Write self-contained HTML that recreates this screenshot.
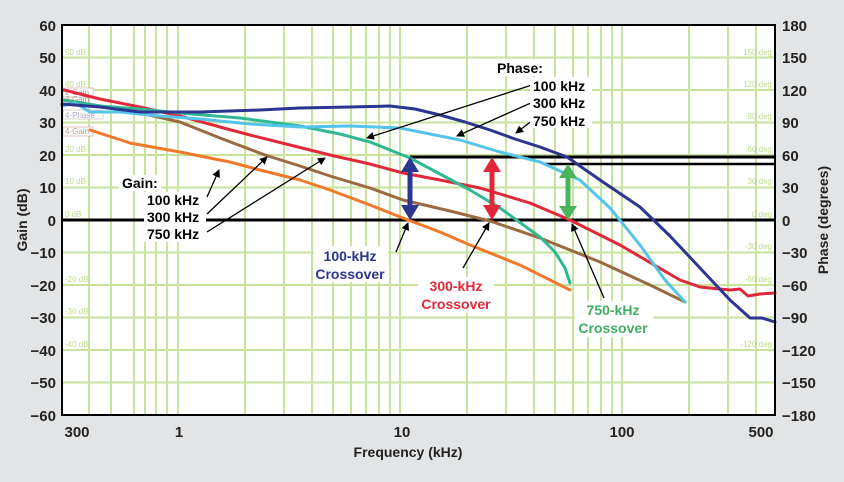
<!DOCTYPE html>
<html><head><meta charset="utf-8"><style>
body{margin:0;background:#e3e4e5;}
svg{display:block;font-family:"Liberation Sans",sans-serif;}
</style></head><body>
<svg width="844" height="482" viewBox="0 0 844 482" xmlns="http://www.w3.org/2000/svg">
<rect width="844" height="482" fill="#e3e4e5"/>
<rect x="62" y="25" width="713" height="390" fill="#fff"/>
<g stroke="#c8e39c" stroke-width="2">
<line x1="62" x2="775" y1="57.5" y2="57.5"/><line x1="62" x2="775" y1="90" y2="90"/>
<line x1="62" x2="775" y1="122.5" y2="122.5"/><line x1="62" x2="775" y1="155" y2="155"/>
<line x1="62" x2="775" y1="187.5" y2="187.5"/>
<line x1="62" x2="775" y1="252.5" y2="252.5"/><line x1="62" x2="775" y1="285" y2="285"/>
<line x1="62" x2="775" y1="317.5" y2="317.5"/><line x1="62" x2="775" y1="350" y2="350"/>
<line x1="62" x2="775" y1="382.5" y2="382.5"/>
<line x1="89" x2="89" y1="25" y2="415"/><line x1="111" x2="111" y1="25" y2="415"/>
<line x1="134" x2="134" y1="25" y2="415"/><line x1="145" x2="145" y1="25" y2="415"/>
<line x1="156" x2="156" y1="25" y2="415"/><line x1="167" x2="167" y1="25" y2="415"/>
<line x1="178" x2="178" y1="25" y2="415"/>
<line x1="245" x2="245" y1="25" y2="415"/><line x1="284" x2="284" y1="25" y2="415"/>
<line x1="312" x2="312" y1="25" y2="415"/><line x1="333" x2="333" y1="25" y2="415"/>
<line x1="351" x2="351" y1="25" y2="415"/><line x1="366" x2="366" y1="25" y2="415"/>
<line x1="379" x2="379" y1="25" y2="415"/><line x1="390" x2="390" y1="25" y2="415"/>
<line x1="400" x2="400" y1="25" y2="415"/>
<line x1="467" x2="467" y1="25" y2="415"/><line x1="506" x2="506" y1="25" y2="415"/>
<line x1="534" x2="534" y1="25" y2="415"/><line x1="555" x2="555" y1="25" y2="415"/>
<line x1="573" x2="573" y1="25" y2="415"/><line x1="588" x2="588" y1="25" y2="415"/>
<line x1="601" x2="601" y1="25" y2="415"/><line x1="612" x2="612" y1="25" y2="415"/>
<line x1="622" x2="622" y1="25" y2="415"/>
<line x1="689" x2="689" y1="25" y2="415"/><line x1="728" x2="728" y1="25" y2="415"/>
<line x1="756" x2="756" y1="25" y2="415"/>
</g>
<g fill="#bcdc8a" font-size="8">
<text x="65" y="55">50 dB</text><text x="65" y="87">40 dB</text><text x="65" y="152">20 dB</text>
<text x="65" y="184">10 dB</text><text x="65" y="217">0 dB</text><text x="65" y="282">-20 dB</text>
<text x="65" y="314">-30 dB</text><text x="65" y="347">-40 dB</text>
<text x="772" y="55" text-anchor="end">150 deg</text><text x="772" y="87" text-anchor="end">120 deg</text>
<text x="772" y="119" text-anchor="end">90 deg</text><text x="772" y="152" text-anchor="end">60 deg</text>
<text x="772" y="184" text-anchor="end">30 deg</text><text x="772" y="217" text-anchor="end">0 deg</text>
<text x="772" y="249" text-anchor="end">-30 deg</text><text x="772" y="282" text-anchor="end">-60 deg</text>
<text x="772" y="347" text-anchor="end">-120 deg</text>
</g>
<g font-size="8" fill="#b99">
<rect x="63" y="88" width="30" height="9" fill="#fff" stroke="#c99" stroke-width="0.6"/><text x="65" y="95">2-Gain</text>
<text x="65" y="102" fill="#a98">3-Gain</text>
<rect x="63" y="110" width="40" height="9" fill="#fff" stroke="#bbb" stroke-width="0.6"/><text x="65" y="118" fill="#aac">4-Phase</text>
<rect x="63" y="127" width="30" height="9" fill="#fff" stroke="#c99" stroke-width="0.6"/><text x="65" y="134">4-Gain</text>
</g>
<line x1="62" x2="775" y1="220" y2="220" stroke="#000" stroke-width="3"/>
<line x1="410" x2="775" y1="157" y2="157" stroke="#000" stroke-width="3"/>
<line x1="545" x2="775" y1="164" y2="164" stroke="#000" stroke-width="2.5"/>
<g fill="none" stroke-width="3" stroke-linejoin="round" stroke-linecap="round">
<polyline stroke="#f07a2a" points="90,130 130,143 180,152 230,162 260,170 300,180 330,190 370,205 403,218 440,232 470,245 520,265 570,290"/>
<polyline stroke="#9a6a42" points="64,100 100,106 140,113 180,122 220,138 265,155 300,166 330,176 370,188 403,200 450,211 490,221 540,238 600,262 650,285 685,302"/>
<polyline stroke="#e0283a" points="64,90 100,99 140,107 180,116 220,127 250,135 290,145 330,155 370,164 403,173 440,180 480,188 530,203 570,220 620,245 680,280 700,287 730,290 740,289 748,296 760,294 775,293"/>
<polyline stroke="#30b894" points="62,100 100,106 140,109 180,113 240,118 300,126 340,134 370,142 410,158 440,174 470,190 500,208 540,237 555,252 565,268 570,283"/>
<polyline stroke="#55c4ea" points="62,106 75,103 90,112 120,112 160,116 200,119 250,124 300,127 350,126 400,128 430,134 460,140 500,152 540,162 580,180 610,208 640,245 665,280 685,302"/>
<polyline stroke="#2c3590" points="62,104 100,107 140,112 170,112 200,112 260,110 300,108 350,107 390,106 415,109 440,115 465,122 490,130 515,139 540,147 567,157 600,180 640,207 670,236 700,268 730,300 750,318 762,318 775,322"/>
</g>
<g stroke-width="5">
<line x1="410" x2="410" y1="168" y2="209" stroke="#2c3590"/>
<line x1="492" x2="492" y1="168" y2="209" stroke="#e0283a"/>
<line x1="568" x2="568" y1="174" y2="209" stroke="#49b55a"/>
</g>
<polygon fill="#2c3590" points="410,157 401,172 419,172"/><polygon fill="#2c3590" points="410,220 401,205 419,205"/>
<polygon fill="#e0283a" points="492,157 483,172 501,172"/><polygon fill="#e0283a" points="492,220 483,205 501,205"/>
<polygon fill="#49b55a" points="568,164 559,178 577,178"/><polygon fill="#49b55a" points="568,220 559,206 577,206"/>
<defs><marker id="ah" markerWidth="8" markerHeight="8" refX="7" refY="4" orient="auto" markerUnits="userSpaceOnUse"><path d="M0,0 L8,4 L0,8z" fill="#000"/></marker></defs>
<g stroke="#000" stroke-width="1.3" marker-end="url(#ah)">
<line x1="532" y1="85" x2="367" y2="138"/>
<line x1="533" y1="102" x2="457" y2="136"/>
<line x1="533" y1="120" x2="516" y2="133"/>
<line x1="207" y1="197" x2="219" y2="170"/>
<line x1="207" y1="214" x2="267" y2="157"/>
<line x1="207" y1="232" x2="325" y2="158"/>
<line x1="396" y1="252" x2="408" y2="223"/>
<line x1="463" y1="268" x2="489" y2="223"/>
<line x1="604" y1="298" x2="572" y2="224"/>
</g>
<g fill="#fff">
<rect x="495" y="59" width="50" height="17"/>
<rect x="530" y="77" width="62" height="51"/>
<rect x="119" y="175" width="42" height="16"/>
<rect x="144" y="192" width="62" height="50"/>
</g>
<g font-size="14" font-weight="bold" fill="#000">
<text x="497" y="73">Phase:</text>
<text x="533" y="91">100 kHz</text><text x="533" y="108">300 kHz</text><text x="533" y="126">750 kHz</text>
<text x="122" y="188">Gain:</text>
<text x="147" y="205">100 kHz</text><text x="147" y="222">300 kHz</text><text x="147" y="239">750 kHz</text>
</g>
<g font-size="14" font-weight="bold" text-anchor="middle">
<rect x="314" y="246" width="74" height="36" fill="#fff"/>
<text x="350" y="261" fill="#2c3590">100-kHz</text><text x="350" y="279" fill="#2c3590">Crossover</text>
<rect x="418" y="277" width="76" height="36" fill="#fff"/>
<text x="456" y="291" fill="#e0283a">300-kHz</text><text x="456" y="309" fill="#e0283a">Crossover</text>
<rect x="575" y="301" width="78" height="36" fill="#fff"/>
<text x="613" y="315" fill="#3fae60">750-kHz</text><text x="613" y="333" fill="#3fae60">Crossover</text>
</g>
<rect x="62" y="25" width="713" height="390" fill="none" stroke="#000" stroke-width="2"/>
<g font-size="15" font-weight="bold" fill="#222" text-anchor="end">
<text x="56" y="31">60</text><text x="56" y="63">50</text><text x="56" y="96">40</text><text x="56" y="128">30</text>
<text x="56" y="161">20</text><text x="56" y="193">10</text><text x="56" y="226">0</text>
<text x="56" y="258">−10</text><text x="56" y="291">−20</text><text x="56" y="323">−30</text>
<text x="56" y="356">−40</text><text x="56" y="388">−50</text><text x="56" y="421">−60</text>
</g>
<g font-size="15" font-weight="bold" fill="#222">
<text x="782" y="31">180</text><text x="782" y="63">150</text><text x="782" y="96">120</text><text x="782" y="128">90</text>
<text x="782" y="161">60</text><text x="782" y="193">30</text><text x="782" y="226">0</text>
<text x="782" y="258">−30</text><text x="782" y="291">−60</text><text x="782" y="323">−90</text>
<text x="782" y="356">−120</text><text x="782" y="388">−150</text><text x="782" y="421">−180</text>
</g>
<g font-size="15" font-weight="bold" fill="#222" text-anchor="middle">
<text x="77" y="437">300</text><text x="179" y="437">1</text><text x="402" y="437">10</text>
<text x="622" y="437">100</text><text x="761" y="437">500</text>
</g>
<text x="408" y="457" font-size="14" font-weight="bold" fill="#222" text-anchor="middle">Frequency (kHz)</text>
<text transform="translate(27,220) rotate(-90)" font-size="14" font-weight="bold" fill="#222" text-anchor="middle">Gain (dB)</text>
<text transform="translate(828,220) rotate(-90)" font-size="14" font-weight="bold" fill="#222" text-anchor="middle">Phase (degrees)</text>
</svg>
</body></html>
